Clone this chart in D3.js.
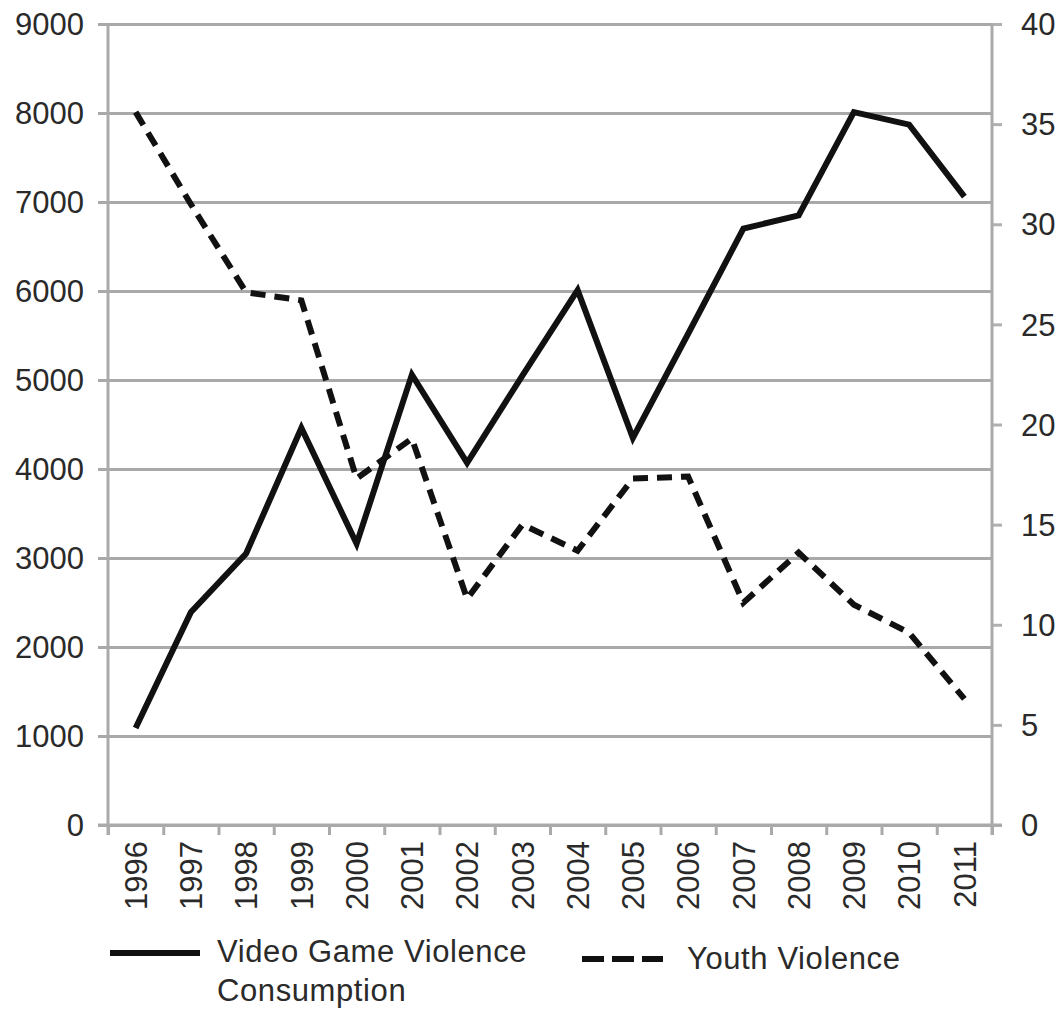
<!DOCTYPE html>
<html>
<head>
<meta charset="utf-8">
<script src="https://cdn.jsdelivr.net/npm/d3@7"></script>
<style>
  body { margin: 0; background: #fff; }
  text { font-family: "Liberation Sans", Arial, sans-serif; fill: #2a2a2a; }
</style>
</head>
<body>
<div id="chart"></div>
<script>
// data
const years = ["1996", "1997", "1998", "1999", "2000", "2001", "2002", "2003",
               "2004", "2005", "2006", "2007", "2008", "2009", "2010", "2011"];
const gameViolence = [1090, 2390, 3050, 4460, 3160, 5060, 4070, 5050,
                      6010, 4350, 5520, 6700, 6850, 8010, 7870, 7060];
const youthViolence = [35.6, 31.0, 26.6, 26.2, 17.3, 19.3, 11.3, 15.0,
                       13.7, 17.3, 17.4, 11.1, 13.6, 11.0, 9.6, 6.3];
const leftTicks = [0, 1000, 2000, 3000, 4000, 5000, 6000, 7000, 8000, 9000];
const rightTicks = [0, 5, 10, 15, 20, 25, 30, 35, 40];

const W = 1063, H = 1009;
const plotLeft = 108, plotRight = 992, plotTop = 24, plotBottom = 825;

const svg = d3.select("#chart").append("svg")
    .attr("width", W)
    .attr("height", H);

const x = d3.scaleBand().domain(years).range([plotLeft, plotRight]).padding(0);
const xIdx = d3.scaleLinear().domain([0, years.length]).range([plotLeft, plotRight]);
const yL = d3.scaleLinear().domain([0, 9000]).range([plotBottom, plotTop]);
const yR = d3.scaleLinear().domain([0, 40]).range([plotBottom, plotTop]);
const cx = d => x(d) + x.bandwidth() / 2;

// gridlines (left axis), with short outer ticks
const grid = svg.append("g")
    .attr("transform", `translate(${plotLeft},0)`)
    .call(d3.axisLeft(yL).tickValues(leftTicks).tickSize(-(plotRight - plotLeft)).tickSizeOuter(0).tickFormat(""));
grid.select(".domain").remove();
grid.selectAll(".tick line")
    .attr("x1", -10)
    .attr("stroke", "#a9a9a9")
    .attr("stroke-width", 3);

// left labels
svg.append("g").selectAll("text")
    .data(leftTicks)
    .enter().append("text")
    .attr("x", 84)
    .attr("y", d => yL(d))
    .attr("dy", "0.36em")
    .attr("text-anchor", "end")
    .style("font-size", "31px")
    .text(d => d);

// right axis
const rAxis = svg.append("g")
    .attr("transform", `translate(${plotRight},0)`)
    .call(d3.axisRight(yR).tickValues(rightTicks).tickSize(10).tickSizeOuter(0).tickFormat(""));
rAxis.select(".domain").remove();
rAxis.selectAll(".tick line").attr("stroke", "#b0b0b0").attr("stroke-width", 3);

svg.append("g").selectAll("text")
    .data(rightTicks)
    .enter().append("text")
    .attr("x", 1021)
    .attr("y", d => yR(d))
    .attr("dy", "0.36em")
    .style("font-size", "31px")
    .text(d => d);

// vertical axis lines
[plotLeft, plotRight].forEach(px => {
    svg.append("line")
        .attr("x1", px).attr("x2", px)
        .attr("y1", plotTop).attr("y2", plotBottom + 10)
        .attr("stroke", "#aaaaaa")
        .attr("stroke-width", 3);
});

// bottom axis with ticks between categories
const bAxis = svg.append("g")
    .attr("transform", `translate(0,${plotBottom})`)
    .call(d3.axisBottom(xIdx).ticks(years.length).tickSize(10).tickSizeOuter(0).tickFormat(""));
bAxis.select(".domain")
    .attr("d", `M${plotLeft - 10},0H${plotRight + 10}`)
    .attr("stroke", "#aaaaaa")
    .attr("stroke-width", 3);
bAxis.selectAll(".tick line").attr("stroke", "#aaaaaa").attr("stroke-width", 3);

// year labels, rotated
svg.append("g").selectAll("text")
    .data(years)
    .enter().append("text")
    .attr("transform", d => `translate(${cx(d)},841) rotate(-90)`)
    .attr("dy", "0.36em")
    .attr("text-anchor", "end")
    .style("font-size", "31px")
    .text(d => d);

// lines
const lineL = d3.line().x((d, i) => cx(years[i])).y(d => yL(d));
const lineR = d3.line().x((d, i) => cx(years[i])).y(d => yR(d));

svg.append("path")
    .datum(youthViolence)
    .attr("d", lineR)
    .attr("fill", "none")
    .attr("stroke", "#111")
    .attr("stroke-width", 6)
    .attr("stroke-dasharray", "15,9");

svg.append("path")
    .datum(gameViolence)
    .attr("d", lineL)
    .attr("fill", "none")
    .attr("stroke", "#111")
    .attr("stroke-width", 6)
    .attr("stroke-linejoin", "miter");

// legend
svg.append("line")
    .attr("x1", 110).attr("x2", 200)
    .attr("y1", 953).attr("y2", 953)
    .attr("stroke", "#111")
    .attr("stroke-width", 6);
svg.append("text")
    .attr("x", 217).attr("y", 962)
    .style("font-size", "31px")
    .style("letter-spacing", "0.6px")
    .text("Video Game Violence");
svg.append("text")
    .attr("x", 217).attr("y", 1001)
    .style("font-size", "31px")
    .style("letter-spacing", "0.6px")
    .text("Consumption");

svg.append("line")
    .attr("x1", 582).attr("x2", 663)
    .attr("y1", 959).attr("y2", 959)
    .attr("stroke", "#111")
    .attr("stroke-width", 6)
    .attr("stroke-dasharray", "22,8");
svg.append("text")
    .attr("x", 687).attr("y", 969)
    .style("font-size", "31px")
    .style("letter-spacing", "0.6px")
    .text("Youth Violence");
</script>
</body>
</html>
